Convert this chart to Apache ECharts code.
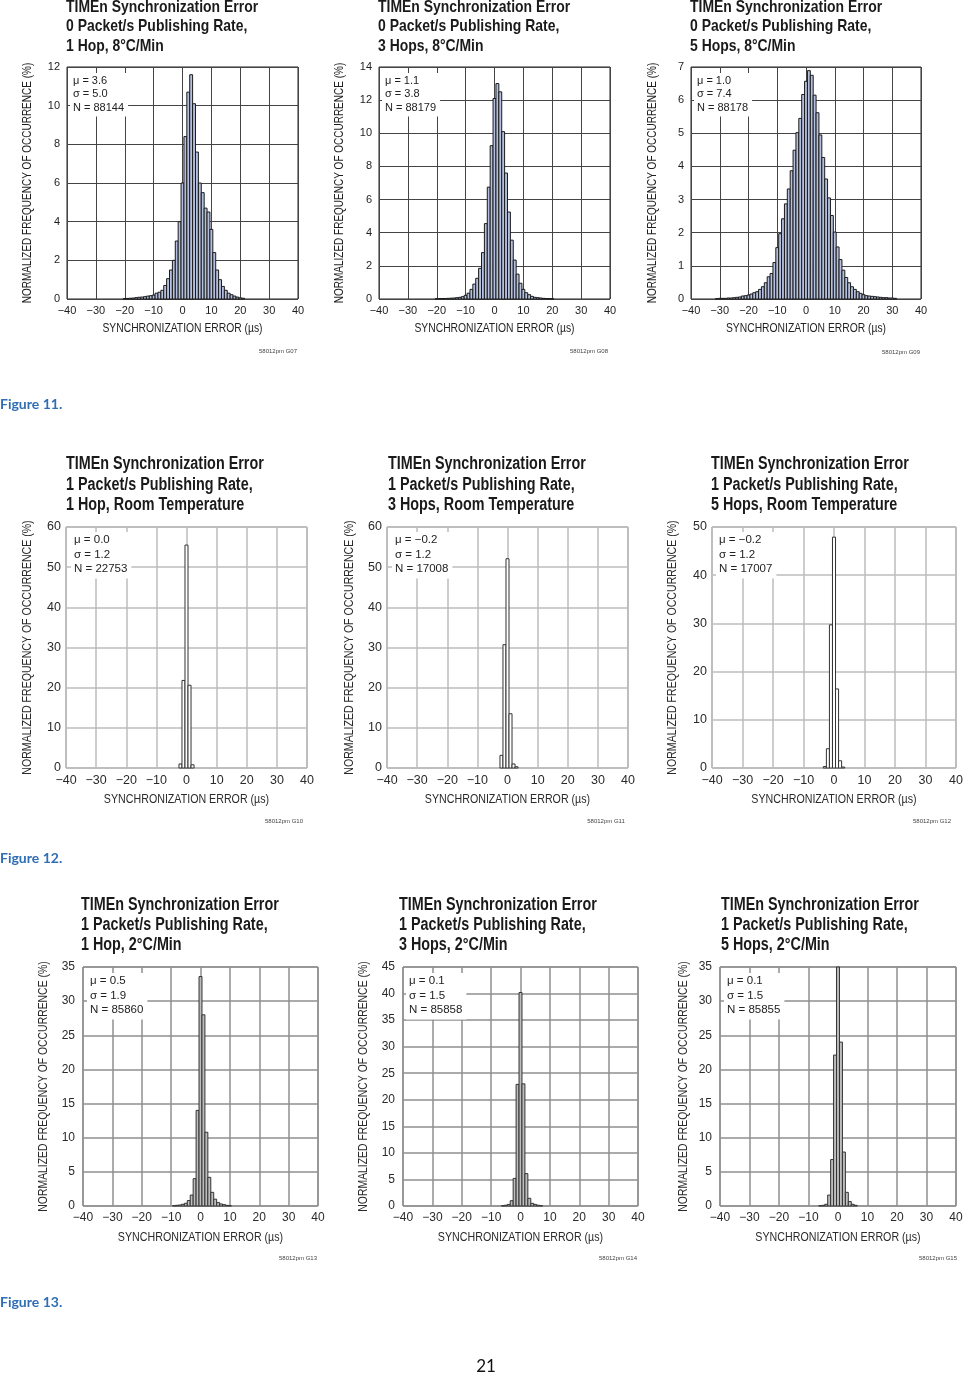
<!DOCTYPE html>
<html><head><meta charset="utf-8">
<script src="https://cdn.jsdelivr.net/npm/echarts@6/dist/echarts.min.js"></script>
<style>html,body{margin:0;padding:0;background:#fff}#c{width:966px;height:1374px}</style>
</head><body><div id="c"></div>
<script>
// ---------- DATA (bin centre in µs, normalized frequency in %) ----------
const binsG07 = [-20,-19,-18,-17,-16,-15,-14,-13,-12,-11,-10,-9,-8,-7,-6,-5,-4,-3,-2,-1,0,1,2,3,4,5,6,7,8,9,10,11,12,13,14,15,16,17,18,19,20,21];
const freqG07 = [0.02,0.03,0.04,0.05,0.07,0.09,0.1,0.12,0.15,0.17,0.2,0.3,0.35,0.45,0.7,1.05,1.5,2.0,3.0,4.0,6.0,8.4,10.7,11.6,10.1,7.6,6.0,5.5,4.7,4.5,3.6,2.4,1.5,1.0,0.65,0.45,0.3,0.22,0.15,0.1,0.06,0.04];

const binsG08 = [-20,-19,-18,-17,-16,-15,-14,-13,-12,-11,-10,-9,-8,-7,-6,-5,-4,-3,-2,-1,0,1,2,3,4,5,6,7,8,9,10,11,12,13,14,15,16,17,18,19,20];
const freqG08 = [0.02,0.02,0.03,0.03,0.04,0.05,0.06,0.08,0.1,0.14,0.22,0.35,0.58,0.9,1.25,1.85,2.8,4.55,6.75,9.25,12.1,13.0,12.5,10.1,7.6,5.25,3.55,2.35,1.5,0.95,0.58,0.38,0.26,0.16,0.1,0.08,0.06,0.04,0.03,0.02,0.02];

const binsG09 = [-31,-30,-29,-28,-27,-26,-25,-24,-23,-22,-21,-20,-19,-18,-17,-16,-15,-14,-13,-12,-11,-10,-9,-8,-7,-6,-5,-4,-3,-2,-1,0,1,2,3,4,5,6,7,8,9,10,11,12,13,14,15,16,17,18,19,20,21,22,23,24,25,26,27,28,29,30,31];
const freqG09 = [0.01,0.02,0.02,0.02,0.03,0.03,0.04,0.05,0.06,0.09,0.1,0.12,0.15,0.19,0.22,0.29,0.37,0.49,0.67,0.77,1.1,1.55,1.97,2.42,2.87,3.32,3.87,4.49,5.02,5.45,6.17,6.57,6.89,6.75,6.15,5.62,4.95,4.27,3.62,3.05,2.52,2.02,1.57,1.19,0.87,0.65,0.49,0.37,0.29,0.22,0.17,0.13,0.1,0.09,0.08,0.07,0.06,0.05,0.04,0.04,0.03,0.03,0.02];

const binsG10 = [-2,-1,0,1,2];
const freqG10 = [1.0,21.8,55.5,20.6,0.8];

const binsG11 = [-2,-1,0,1,2,3];
const freqG11 = [3.15,30.7,52.1,13.5,1.0,0.3];

const binsG12 = [-3,-2,-1,0,1,2,3];
const freqG12 = [0.3,4.0,29.7,47.9,16.4,1.5,0.2];

const binsG13 = [-9,-8,-7,-6,-5,-4,-3,-2,-1,0,1,2,3,4,5,6,7,8,9,10];
const freqG13 = [0.05,0.1,0.15,0.25,0.4,0.8,1.6,4.0,14.0,33.6,28.0,10.8,4.2,2.0,1.0,0.5,0.3,0.2,0.1,0.05];

const binsG14 = [-6,-5,-4,-3,-2,-1,0,1,2,3,4,5,6,7];
const freqG14 = [0.05,0.15,0.3,1.0,5.2,22.9,40.2,23.0,6.1,1.45,0.5,0.3,0.15,0.05];

const binsG15 = [-6,-5,-4,-3,-2,-1,0,1,2,3,4,5,6];
const freqG15 = [0.05,0.1,0.25,1.6,6.8,22.1,35,24.0,7.9,2.0,0.65,0.25,0.1];

const titlesG = [
  ['TIMEn Synchronization Error','0 Packet/s Publishing Rate,','1 Hop, 8°C/Min'],
  ['TIMEn Synchronization Error','0 Packet/s Publishing Rate,','3 Hops, 8°C/Min'],
  ['TIMEn Synchronization Error','0 Packet/s Publishing Rate,','5 Hops, 8°C/Min'],
  ['TIMEn Synchronization Error','1 Packet/s Publishing Rate,','1 Hop, Room Temperature'],
  ['TIMEn Synchronization Error','1 Packet/s Publishing Rate,','3 Hops, Room Temperature'],
  ['TIMEn Synchronization Error','1 Packet/s Publishing Rate,','5 Hops, Room Temperature'],
  ['TIMEn Synchronization Error','1 Packet/s Publishing Rate,','1 Hop, 2°C/Min'],
  ['TIMEn Synchronization Error','1 Packet/s Publishing Rate,','3 Hops, 2°C/Min'],
  ['TIMEn Synchronization Error','1 Packet/s Publishing Rate,','5 Hops, 2°C/Min']
];
const statsG = [
  ['μ = 3.6','σ = 5.0','N = 88144'],
  ['μ = 1.1','σ = 3.8','N = 88179'],
  ['μ = 1.0','σ = 7.4','N = 88178'],
  ['μ = 0.0','σ = 1.2','N = 22753'],
  ['μ = −0.2','σ = 1.2','N = 17008'],
  ['μ = −0.2','σ = 1.2','N = 17007'],
  ['μ = 0.5','σ = 1.9','N = 85860'],
  ['μ = 0.1','σ = 1.5','N = 85858'],
  ['μ = 0.1','σ = 1.5','N = 85855']
];
const codesG = ['58012pm G07','58012pm G08','58012pm G09','58012pm G10','58012pm G11','58012pm G12','58012pm G13','58012pm G14','58012pm G15'];
const yMaxG = [12,14,7,60,60,50,35,45,35];
const yStepG = [2,2,1,10,10,10,5,5,5];
const xTicks = {min:-40, max:40, step:10};
const xName = 'SYNCHRONIZATION ERROR (µs)';
const yName = 'NORMALIZED FREQUENCY OF OCCURRENCE (%)';
const captions = ['Figure 11.','Figure 12.','Figure 13.'];
const pageNo = '21';

// ---------- LAYOUT / STYLE ----------
const SANS = '"Liberation Sans", Arial, Helvetica, sans-serif';
const NARROW = 0.82; // horizontal squeeze to imitate a condensed face
const styles = {
  r1:{bar:'#b5c0de', edge:'#1a1a1a', grid:'#444', gw:1, border:'#222', txt:'#1e1e1e', tick:11, name:12.6, yname:12.2, stat:11, statLH:13.5, title:17, titleLH:19.5},
  r2:{bar:'#ffffff', edge:'#333', grid:'#bdbdbd', gw:1.5, border:'#888', txt:'#2a2a2a', tick:12.5, name:13, yname:12.9, stat:11.5, statLH:14.5, title:17.5, titleLH:20.5},
  r3:{bar:'#bdbdbd', edge:'#333', grid:'#8f8f8f', gw:1.5, border:'#666', txt:'#2a2a2a', tick:12, name:13, yname:12.7, stat:11.5, statLH:14.5, title:17.5, titleLH:20}
};
const panels = [
  {bins:binsG07, freq:freqG07, s:'r1', g:{left:67,top:67,width:231,height:232}, t:[66,-2.5], st:[70,73], code:[278,351], ylm:7, yn:28, xn:329},
  {bins:binsG08, freq:freqG08, s:'r1', g:{left:379,top:67,width:231,height:232}, t:[378,-2.5], st:[382,73], code:[589,351], ylm:7, yn:340, xn:329},
  {bins:binsG09, freq:freqG09, s:'r1', g:{left:691,top:67,width:230,height:232}, t:[690,-2.5], st:[694,73], code:[901,352], ylm:7, yn:653, xn:329},
  {bins:binsG10, freq:freqG10, s:'r2', g:{left:66,top:527,width:241,height:241}, t:[66,454], st:[71,532], code:[284,821], ylm:5, yn:27, xn:799},
  {bins:binsG11, freq:freqG11, s:'r2', g:{left:387,top:527,width:241,height:241}, t:[388,454], st:[392,532], code:[606,821], ylm:5, yn:349, xn:799},
  {bins:binsG12, freq:freqG12, s:'r2', g:{left:712,top:527,width:244,height:241}, t:[711,454], st:[716,532], code:[932,821], ylm:5, yn:672, xn:799},
  {bins:binsG13, freq:freqG13, s:'r3', g:{left:83,top:967,width:235,height:239}, t:[81,895], st:[87,973], code:[298,1258], ylm:8, yn:43, xn:1237},
  {bins:binsG14, freq:freqG14, s:'r3', g:{left:403,top:967,width:235,height:239}, t:[399,895], st:[406,973], code:[618,1258], ylm:8, yn:363, xn:1237},
  {bins:binsG15, freq:freqG15, s:'r3', g:{left:720,top:967,width:236,height:239}, t:[721,895], st:[724,973], code:[938,1258], ylm:8, yn:683, xn:1237}
];

const minusFmt = v => String(v).replace('-', '\u2212');

const option = {animation:false, backgroundColor:'#fff', grid:[], xAxis:[], yAxis:[], series:[], graphic:[]};

panels.forEach((p, i) => {
  const S = styles[p.s];
  option.grid.push(Object.assign({show:true, borderColor:S.border, borderWidth:1, backgroundColor:'transparent', containLabel:false}, p.g));
  option.xAxis.push({
    gridIndex:i, type:'value', min:xTicks.min, max:xTicks.max, interval:xTicks.step,
    axisLine:{show:false}, axisTick:{show:false},
    splitLine:{show:true, lineStyle:{color:S.grid, width:S.gw}},
    axisLabel:{formatter:minusFmt, fontFamily:SANS, fontSize:S.tick, color:S.txt, margin:6, showMinLabel:true, showMaxLabel:true}
  });
  option.yAxis.push({
    gridIndex:i, type:'value', min:0, max:yMaxG[i], interval:yStepG[i],
    axisLine:{show:false}, axisTick:{show:false},
    splitLine:{show:true, lineStyle:{color:S.grid, width:S.gw}},
    axisLabel:{fontFamily:SANS, fontSize:S.tick, color:S.txt, margin:p.ylm, showMinLabel:true, showMaxLabel:true}
  });
  option.series.push({
    type:'custom', xAxisIndex:i, yAxisIndex:i, z:3,
    data:p.bins.map((b, j) => [b, p.freq[j]]),
    encode:{x:0, y:1},
    renderItem:(params, api) => {
      const x = api.value(0), y = api.value(1);
      const a = api.coord([x - 0.5, y]);
      const b = api.coord([x + 0.5, 0]);
      const cs = params.coordSys;
      const rect = echarts.graphic.clipRectByRect(
        {x:a[0], y:a[1], width:b[0]-a[0], height:b[1]-a[1]},
        {x:cs.x, y:cs.y - 1, width:cs.width, height:cs.height + 1});
      if (!rect) return null;
      return {type:'rect', shape:rect, style:{fill:S.bar, stroke:S.edge, lineWidth:1}};
    }
  });
  const cx = p.g.left + p.g.width / 2, cy = p.g.top + p.g.height / 2;
  // title (condensed look via horizontal scale)
  option.graphic.push({type:'text', x:p.t[0], y:p.t[1], scaleX:NARROW, z:100,
    style:{text:titlesG[i].join('\n'), font:'bold ' + S.title + 'px ' + SANS, lineHeight:S.titleLH, fill:'#1a1a1a', align:'left', verticalAlign:'top'}});
  // x axis name
  option.graphic.push({type:'text', x:cx, y:p.xn, scaleX:NARROW, z:100,
    style:{text:xName, font:S.name + 'px ' + SANS, fill:S.txt, align:'center', verticalAlign:'middle'}});
  // y axis name
  option.graphic.push({type:'text', x:p.yn, y:cy, rotation:Math.PI / 2, scaleX:NARROW, z:100,
    style:{text:yName, font:S.yname + 'px ' + SANS, fill:S.txt, align:'center', verticalAlign:'middle'}});
  // stats box
  option.graphic.push({type:'text', x:p.st[0], y:p.st[1], z:100,
    style:{text:statsG[i].join('\n'), font:S.stat + 'px ' + SANS, lineHeight:S.statLH, fill:'#222', backgroundColor:'#fff', padding:[1,4,2,3], align:'left', verticalAlign:'top'}});
  // figure code
  option.graphic.push({type:'text', x:p.code[0], y:p.code[1], z:100,
    style:{text:codesG[i], font:'6px ' + SANS, fill:'#444', align:'center', verticalAlign:'middle'}});
});

[404, 858, 1302].forEach((y, k) => {
  option.graphic.push({type:'text', x:0, y:y, z:100,
    style:{text:captions[k], font:'bold 14px Lato, "Open Sans", sans-serif', fill:'#2f6eb5', verticalAlign:'middle'}});
});
option.graphic.push({type:'text', x:486, y:1367, z:100,
  style:{text:pageNo, font:'17px Lato, "Open Sans", sans-serif', fill:'#111', align:'center', verticalAlign:'middle'}});

const chart = echarts.init(document.getElementById('c'), null, {renderer:'canvas'});
chart.setOption(option);
</script>
</body></html>
